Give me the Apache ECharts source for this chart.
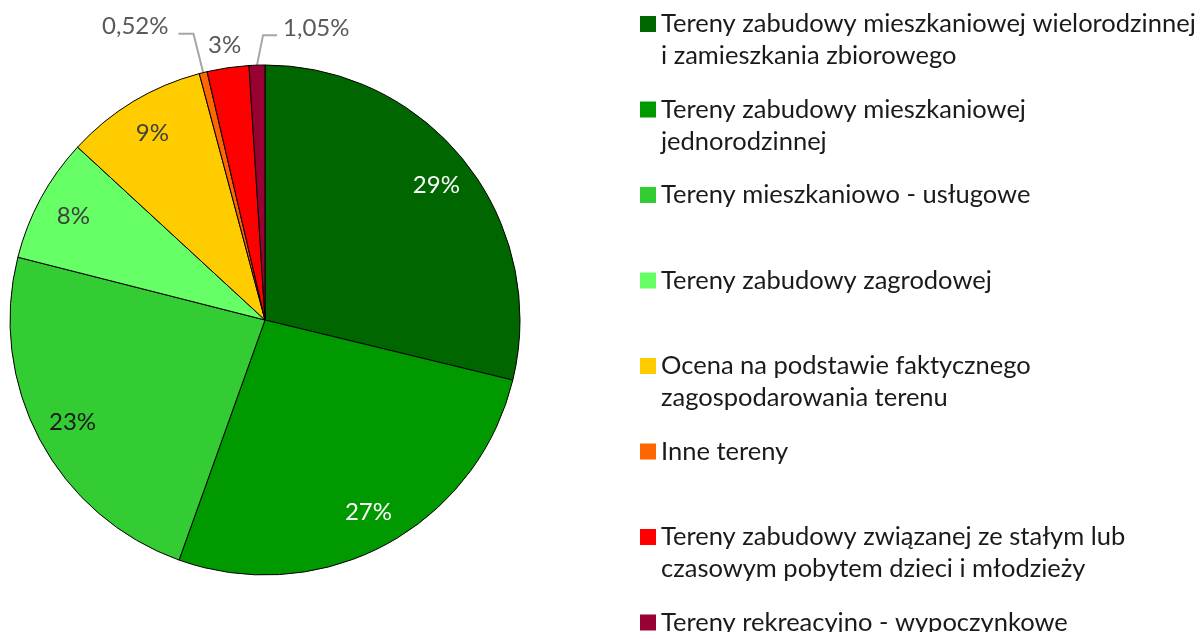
<!DOCTYPE html>
<html>
<head>
<meta charset="utf-8">
<script src="https://cdn.jsdelivr.net/npm/echarts@6/dist/echarts.min.js"></script>
<style>
html,body{margin:0;padding:0;background:#fff;}
#chart{width:1203px;height:632px;}
</style>
</head>
<body>
<div id="chart"></div>
<script>
// Category names (legend text, split into display lines)
const categories = [
  'Tereny zabudowy mieszkaniowej wielorodzinnej i zamieszkania zbiorowego',
  'Tereny zabudowy mieszkaniowej jednorodzinnej',
  'Tereny mieszkaniowo - usługowe',
  'Tereny zabudowy zagrodowej',
  'Ocena na podstawie faktycznego zagospodarowania terenu',
  'Inne tereny',
  'Tereny zabudowy związanej ze stałym lub czasowym pobytem dzieci i młodzieży',
  'Tereny rekreacyjno - wypoczynkowe'
];
const legendLines = [
  ['Tereny zabudowy mieszkaniowej wielorodzinnej', 'i zamieszkania zbiorowego'],
  ['Tereny zabudowy mieszkaniowej', 'jednorodzinnej'],
  ['Tereny mieszkaniowo - usługowe'],
  ['Tereny zabudowy zagrodowej'],
  ['Ocena na podstawie faktycznego', 'zagospodarowania terenu'],
  ['Inne tereny'],
  ['Tereny zabudowy związanej ze stałym lub', 'czasowym pobytem dzieci i młodzieży'],
  ['Tereny rekreacyjno - wypoczynkowe']
];
// Slice shares (%)
const values = [28.8, 26.7, 23.5, 7.9, 9.0, 0.5, 2.65, 1.0];
// Data labels as printed
const valueLabels = ['29%', '27%', '23%', '8%', '9%', '0,52%', '3%', '1,05%'];
const colors = ['#006600', '#009900', '#33CC33', '#66FF66', '#FFCC00', '#FF6600', '#FF0000', '#990033'];
const insideLabelColors = ['#ffffff', '#ffffff', '#1a1a1a', '#404040', '#404040'];
const FONT = 'Lato';

const chart = echarts.init(document.getElementById('chart'));

const mainData = categories.map((name, i) => {
  const item = { name: name, value: values[i], itemStyle: { color: colors[i] } };
  if (i < 5) {
    item.label = { show: false };
    item.labelLine = { show: false };
  } else if (i === 5) {
    item.label = { show: true };
    item.labelLine = { show: true, length: 40, length2: 15 };
  } else if (i === 6) {
    item.label = { show: true };
    item.labelLine = { show: true, length: 23, length2: 0, lineStyle: { opacity: 0 } };
  } else {
    item.label = { show: true };
    item.labelLine = { show: true, length: 30, length2: 14 };
  }
  return item;
});

const overlayData = categories.map((name, i) => ({
  name: name,
  value: values[i],
  label: i < 5 ? { show: true, color: insideLabelColors[i] } : { show: false }
}));

const option = {
  backgroundColor: '#ffffff',
  animation: false,
  textStyle: { fontFamily: FONT },
  legend: {
    orient: 'vertical',
    left: 640,
    top: -24,
    height: 2000,
    padding: 0,
    itemWidth: 16,
    itemHeight: 16,
    itemGap: -10.5,
    icon: 'rect',
    selectedMode: false,
    itemStyle: { borderWidth: 0 },
    data: categories,
    formatter: function (name) {
      const idx = categories.indexOf(name);
      const l = legendLines[idx];
      return ' \n' + l[0] + '\n' + (l[1] || ' ');
    },
    textStyle: { fontFamily: FONT, fontSize: 25.5, color: '#1a1a1a', lineHeight: 32 }
  },
  series: [
    {
      type: 'pie',
      center: [265, 320],
      radius: [0, 255],
      startAngle: 90,
      clockwise: true,
      avoidLabelOverlap: false,
      silent: true,
      itemStyle: { borderColor: '#000000', borderWidth: 1 },
      label: {
        position: 'outside',
        fontFamily: FONT,
        fontSize: 24,
        color: '#595959',
        formatter: p => valueLabels[p.dataIndex],
        distanceToLabelLine: 8
      },
      labelLine: {
        smooth: false,
        lineStyle: { color: '#a6a6a6', width: 2 }
      },
      labelLayout: function (p) {
        const pts = p.labelLinePoints;
        if (!pts) return;
        if (p.dataIndex === 7) {
          const p1 = [pts[1][0] + 7, pts[1][1]];
          const len2 = Math.abs(pts[1][0] - pts[2][0]);
          const nx = p1[0] + len2;
          return {
            x: nx + 6,
            y: p1[1] - 7,
            align: 'left',
            verticalAlign: 'middle',
            labelLinePoints: [pts[0], p1, [nx, p1[1]]]
          };
        }
        if (p.dataIndex === 6) {
          return { x: pts[2][0], y: pts[2][1], align: 'center', verticalAlign: 'middle', labelLinePoints: pts };
        }
        if (p.dataIndex === 5) {
          return { x: pts[2][0] - 10, y: pts[2][1] - 8, align: 'right', verticalAlign: 'middle', labelLinePoints: pts };
        }
      },
      data: mainData
    },
    {
      type: 'pie',
      center: [265, 320],
      radius: [175, 255],
      startAngle: 90,
      clockwise: true,
      silent: true,
      itemStyle: { color: 'rgba(0,0,0,0)', borderWidth: 0 },
      label: {
        position: 'inside',
        fontFamily: FONT,
        fontSize: 24,
        formatter: p => valueLabels[p.dataIndex]
      },
      labelLine: { show: false },
      data: overlayData
    }
  ]
};
chart.setOption(option);
</script>
</body>
</html>
